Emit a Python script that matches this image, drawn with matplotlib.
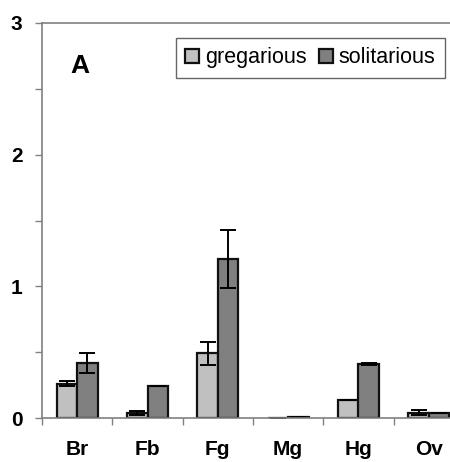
import numpy as np
import matplotlib
matplotlib.use("Agg")
import matplotlib.pyplot as plt
from matplotlib.ticker import MultipleLocator

# ---------------------------------
# Data
# ---------------------------------

tissues = ["Br", "Fb", "Fg", "Mg", "Hg", "Ov"]
gregarious = [0.26, 0.04, 0.49, 0.003, 0.14, 0.04]
gregarious_err = [0.02, 0.015, 0.085, 0.0, 0.0, 0.02]
solitarious = [0.42, 0.24, 1.21, 0.005, 0.41, 0.04]
solitarious_err = [0.075, 0.0, 0.22, 0.0, 0.01, 0.0]

# ---------------------------------
# Figure
# ---------------------------------

plt.rcParams["font.family"] = ["Liberation Sans", "DejaVu Sans"]

fig = plt.figure(figsize=(4.5, 4.62), dpi=100)
ax = fig.add_axes([42 / 450, 1 - 418 / 462, 422 / 450, 395 / 462])

x = np.arange(len(tissues))
w = 0.29
err_kw = dict(elinewidth=1.4, capthick=1.4, capsize=5.5, ecolor="black")

ax.bar(x - w / 2, gregarious, w, yerr=gregarious_err, color="#c0c0c0",
       edgecolor="#111111", linewidth=1.6, label="gregarious", error_kw=err_kw)
ax.bar(x + w / 2, solitarious, w, yerr=solitarious_err, color="#808080",
       edgecolor="#111111", linewidth=1.6, label="solitarious", error_kw=err_kw)

ax.set_xlim(-0.5, len(tissues) - 0.5)
ax.set_ylim(0, 3)

# y axis: major at 1, minor at 0.5
ax.yaxis.set_major_locator(MultipleLocator(1))
ax.yaxis.set_minor_locator(MultipleLocator(0.5))
ax.tick_params(axis="y", which="major", length=5, width=1, color="#808080",
               labelsize=15, pad=9)
ax.tick_params(axis="y", which="minor", length=5, width=1, color="#808080")
for lab in ax.get_yticklabels():
    lab.set_fontweight("bold")

# x axis: ticks between categories, labels centred below
ax.set_xticks(np.arange(-0.5, len(tissues), 1.0))
ax.set_xticklabels([])
ax.set_xticks(x, minor=True)
ax.set_xticklabels(tissues, minor=True, fontsize=15, fontweight="bold")
ax.tick_params(axis="x", which="major", length=5, width=1, color="#808080")
ax.tick_params(axis="x", which="minor", length=0, pad=16)

for side in ["left", "bottom", "top"]:
    ax.spines[side].set_color("#808080")
    ax.spines[side].set_linewidth(1.2)
ax.spines["right"].set_visible(False)

ax.text(0.067, 0.89, "A", transform=ax.transAxes, fontsize=19,
        fontweight="bold", va="center", ha="left")

leg = ax.legend(loc="upper right", bbox_to_anchor=(0.955, 0.963), ncol=2,
                fontsize=15.5, frameon=True, fancybox=False, handlelength=0.65,
                handleheight=0.65, handletextpad=0.25, columnspacing=0.6,
                borderpad=0.45, borderaxespad=0)
leg.get_frame().set_edgecolor("#404040")
leg.get_frame().set_linewidth(1.0)

fig.savefig("out.png", dpi=100)
